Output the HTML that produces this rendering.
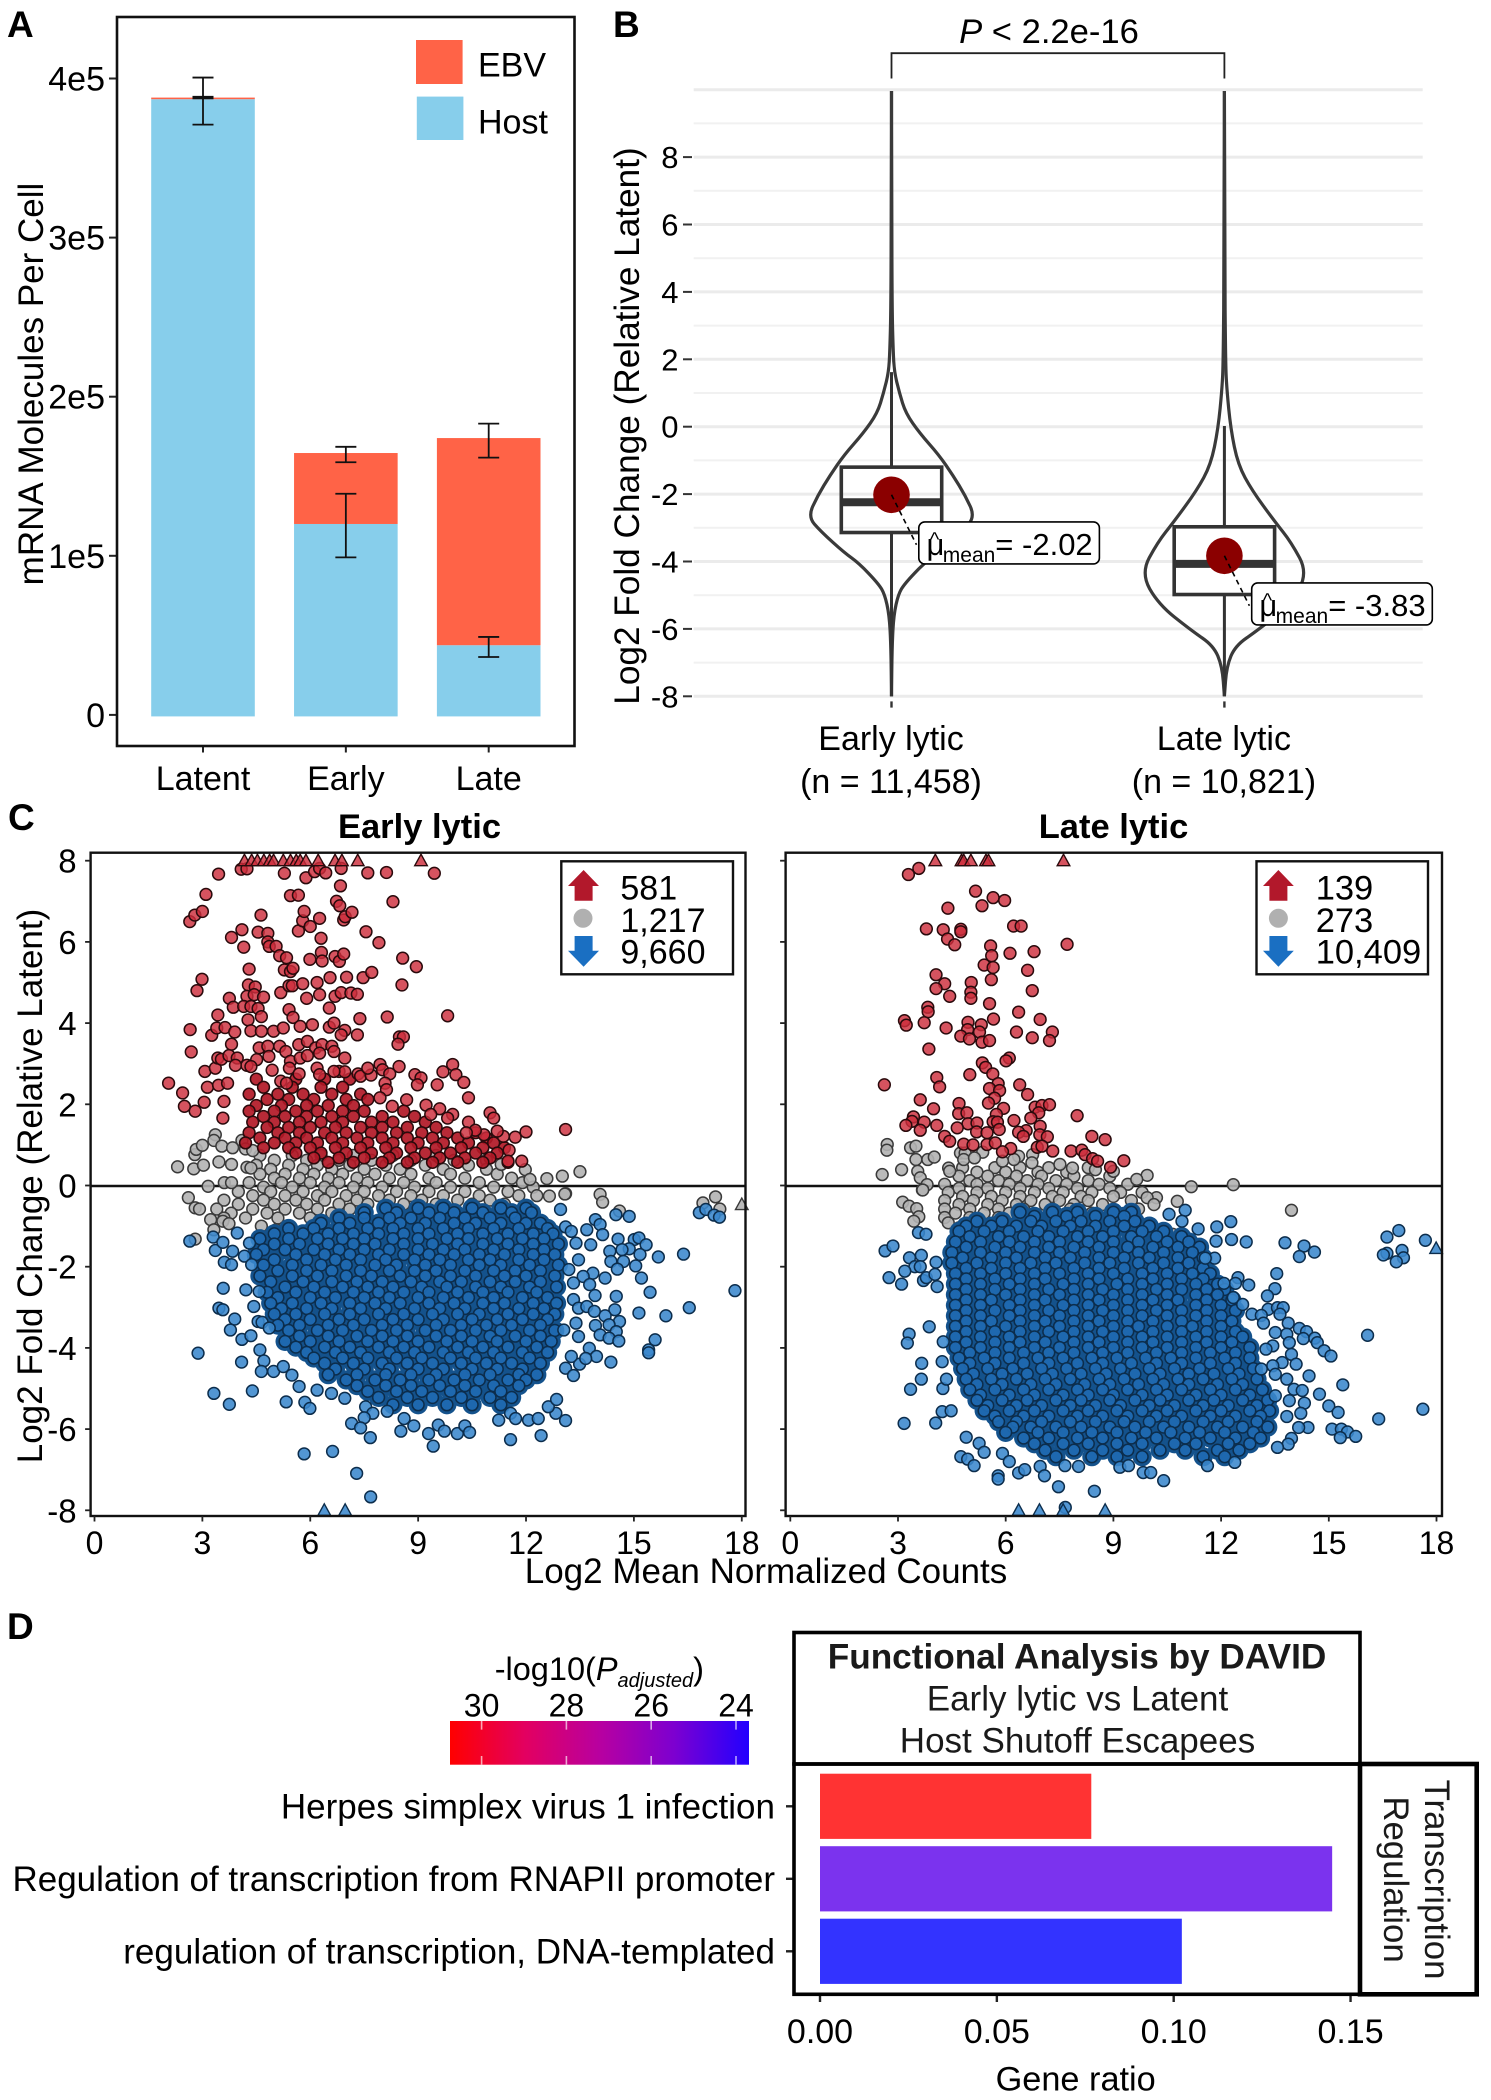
<!DOCTYPE html>
<html lang="en">
<head>
<meta charset="utf-8">
<title>Host shutoff figure</title>
<style>
html,body{margin:0;padding:0;background:#fff;}
svg{display:block;font-family:"Liberation Sans",Arial,sans-serif;}
text{fill:#000;}
</style>
</head>
<body>
<svg id="figure" width="1491" height="2100" viewBox="0 0 1491 2100">
<rect x="0" y="0" width="1491" height="2100" fill="#fff"/>

<text x="7" y="37" font-size="37" font-weight="bold">A</text>
<text x="613" y="37" font-size="37" font-weight="bold">B</text>
<text x="8" y="830" font-size="37" font-weight="bold">C</text>
<text x="7" y="1639" font-size="37" font-weight="bold">D</text>

<g id="panelA"></g>
<text transform="translate(43,384) rotate(-90)" text-anchor="middle" font-size="35">mRNA Molecules Per Cell</text>
<rect x="117" y="17" width="457.5" height="729" fill="none" stroke="#111" stroke-width="2.6"/>
<rect x="416" y="40" width="46.6" height="44" fill="#ff6347"/>
<rect x="416.8" y="96.6" width="46.6" height="43.4" fill="#87ceeb"/>
<text x="478" y="76.5" font-size="34">EBV</text>
<text x="478" y="133.3" font-size="34">Host</text>

<g id="panelB"></g>
<text transform="translate(639,426) rotate(-90)" text-anchor="middle" font-size="35.2">Log2 Fold Change (Relative Latent)</text>
<path d="M891.5 78.5V53.2H1224.4V78.5" fill="none" stroke="#222" stroke-width="1.8"/>
<text x="1049" y="43" text-anchor="middle" font-size="34.6"><tspan font-style="italic">P</tspan> &lt; 2.2e-16</text>

<g id="panelC"></g>
<text x="419.5" y="838" text-anchor="middle" font-size="34.5" font-weight="bold">Early lytic</text>
<text x="1113.5" y="838" text-anchor="middle" font-size="34.5" font-weight="bold">Late lytic</text>
<text transform="translate(42,1186) rotate(-90)" text-anchor="middle" font-size="35">Log2 Fold Change (Relative Latent)</text>
<text x="766" y="1583" text-anchor="middle" font-size="35">Log2 Mean Normalized Counts</text>

<defs>
<linearGradient id="pGradient" x1="0" x2="1" y1="0" y2="0"><stop offset="0" stop-color="#ff0000"/><stop offset="0.25" stop-color="#e30060"/><stop offset="0.5" stop-color="#b800a0"/><stop offset="0.75" stop-color="#7d00d0"/><stop offset="1" stop-color="#2200ff"/></linearGradient>
</defs>
<text x="494.7" y="1680" font-size="32.5">-log10(<tspan font-style="italic">P</tspan><tspan font-style="italic" font-size="20" dy="7">adjusted</tspan><tspan dy="-7">)</tspan></text>
<rect x="450" y="1721" width="299" height="43.7" fill="url(#pGradient)"/>
<g id="panelD"></g>
<rect x="794" y="1632.5" width="566" height="131.5" fill="none" stroke="#000" stroke-width="3.6"/>
<text x="1077" y="1668.3" text-anchor="middle" font-size="35.2" font-weight="bold" style="fill:#1a1a1a">Functional Analysis by DAVID</text>
<text x="1077.5" y="1710.7" text-anchor="middle" font-size="35" style="fill:#1a1a1a">Early lytic vs Latent</text>
<text x="1077.5" y="1752.7" text-anchor="middle" font-size="35" style="fill:#1a1a1a">Host Shutoff Escapees</text>
<rect x="794" y="1764" width="566" height="230.3" fill="none" stroke="#000" stroke-width="3.6"/>
<rect x="1360" y="1764" width="116.7" height="230.3" fill="none" stroke="#000" stroke-width="4.6"/>
<text transform="translate(1425,1879.5) rotate(90)" text-anchor="middle" font-size="34.8" style="fill:#1a1a1a">Transcription</text>
<text transform="translate(1384,1879.5) rotate(90)" text-anchor="middle" font-size="34.8" style="fill:#1a1a1a">Regulation</text>
<text x="1075.7" y="2090.7" text-anchor="middle" font-size="34.3">Gene ratio</text>

<g id="legendLayer">
<g>
<rect x="561.3" y="861.3" width="171.7" height="113" fill="#fff" stroke="#111" stroke-width="2.4"/>
<path d="M583.6 870L599 886H592.6V900.7H574.6V886H568Z" fill="#b2182b"/>
<circle cx="583" cy="918.3" r="9.5" fill="#b0b0b0"/>
<path d="M583.6 966.7L599 950.7H592.6V936H574.6V950.7H568Z" fill="#1a6fc2"/>
<text x="620.4" y="899.3" font-size="34">581</text>
<text x="620.4" y="932" font-size="34">1,217</text>
<text x="620.4" y="963.3" font-size="34">9,660</text>
</g>
<g>
<rect x="1256.5" y="861.3" width="171.5" height="113" fill="#fff" stroke="#111" stroke-width="2.4"/>
<path d="M1278.4 870L1293.8 886H1287.4V900.7H1269.4V886H1263Z" fill="#b2182b"/>
<circle cx="1278.4" cy="918.3" r="9.5" fill="#b0b0b0"/>
<path d="M1278.4 966.7L1293.8 950.7H1287.4V936H1269.4V950.7H1263Z" fill="#1a6fc2"/>
<text x="1315.7" y="899.3" font-size="34.5">139</text>
<text x="1315.7" y="932" font-size="34.5">273</text>
<text x="1315.7" y="963.3" font-size="34.5">10,409</text>
</g>
</g>
</svg>
<script>
/* ---------- Panel A data ---------- */
const barCategories=["Latent","Early","Late"];
const hostValues=[387000,120000,43800];
const ebvValues=[1000,44600,130200];
const hostErrLow=[371000,99000,36400];
const hostErrHigh=[400600,139000,49000];
const totalErrLow=[387500,158800,161700];
const totalErrHigh=[388500,168500,183100];
const barTicks=[0,100000,200000,300000,400000];
const barTickLabels=["0","1e5","2e5","3e5","4e5"];

/* ---------- Panel B data ---------- */
const violinCategories=["Early lytic","Late lytic"];
const violinCounts=["(n = 11,458)","(n = 10,821)"];
const violinMajorTicks=[-8,-6,-4,-2,0,2,4,6,8];
const violinExtraMajor=[10];
const violinMinorTicks=[-7,-5,-3,-1,1,3,5,7,9];
const earlyViolinValues=[9.96,6.5,3.46,2.24,1.62,1,0.4,-0.2,-0.83,-1.44,-2.05,-2.67,-3.1,-3.74,-4.05,-4.66,-4.97,-5.58,-6.5,-8];
const earlyViolinDensity=[0,0.003,0.007,0.02,0.034,0.095,0.17,0.34,0.565,0.735,0.885,1,0.85,0.565,0.39,0.156,0.082,0.027,0.007,0];
const lateViolinValues=[9.96,5,1.93,1.16,-0.06,-1.13,-1.9,-2.82,-3.43,-4.35,-5.27,-6.04,-6.5,-7.11,-8];
const lateViolinDensity=[0,0.003,0.014,0.027,0.075,0.163,0.333,0.605,0.8,1,0.79,0.4,0.13,0.027,0];
const boxQ1=[-3.14,-4.98];
const boxMedian=[-2.24,-4.07];
const boxQ3=[-1.2,-2.97];
const whiskerTop=[1.62,0.02];
const whiskerBottom=[-8,-8];
const meanValues=[-2.02,-3.83];
const meanLabels=["= -2.02","= -3.83"];

/* ---------- Panel C data (log2 mean counts, log2 fold change) ---------- */
const maXTicks=[0,3,6,9,12,15,18];
const maYTicks=[-8,-6,-4,-2,0,2,4,6,8];

/* rows: first number is log2 fold change, the rest are log2 mean counts */
const earlyBlueCore=[
[-0.56,8.1,9.0,9.7,10.5,11.3,12.0],
[-0.67,7.5,8.4,9.3,10.0,10.8,11.6,12.15],
[-0.8,6.8,7.5,8.2,8.8,9.6,10.3,11.0,11.7],
[-0.93,6.3,7.1,7.9,8.5,9.2,10.0,10.6,11.3,12.0,12.4],
[-1.06,5.4,6.1,6.8,7.6,8.3,9.0,9.7,10.4,11.1,11.8,12.6],
[-1.19,5.0,5.8,6.5,7.2,7.9,8.6,9.3,10.1,10.8,11.5,12.2,12.75],
[-1.31,4.6,5.4,6.2,6.9,7.5,8.3,9.0,9.8,10.4,11.2,11.9,12.5],
[-1.44,5.0,5.7,6.5,7.2,7.8,8.6,9.4,10.1,10.8,11.5,12.2,12.9],
[-1.58,4.7,5.3,6.1,6.8,7.5,8.2,9.0,9.7,10.3,11.1,11.8,12.5],
[-1.7,4.5,5.6,6.4,7.1,7.9,8.6,9.3,10.0,10.7,11.4,12.2,12.8],
[-1.83,5.0,5.9,6.7,7.4,8.1,8.9,9.6,10.4,11.0,11.8,12.5],
[-1.96,4.7,5.5,6.3,7.0,7.8,8.4,9.2,9.9,10.7,11.3,12.1,12.9],
[-2.1,5.1,5.9,6.6,7.4,8.2,8.9,9.5,10.3,11.1,11.7,12.4],
[-2.23,4.6,5.5,6.2,7.0,7.7,8.5,9.2,9.9,10.6,11.4,12.0,12.8],
[-2.37,4.9,5.8,6.6,7.3,8.0,8.8,9.6,10.2,11.0,11.7,12.4],
[-2.5,5.3,6.1,6.9,7.6,8.3,9.1,9.8,10.6,11.3,12.1,12.85],
[-2.63,4.8,5.6,6.4,7.2,7.9,8.6,9.3,10.1,10.8,11.5,12.3],
[-2.76,5.1,6.0,6.7,7.5,8.2,9.0,9.7,10.4,11.1,11.9,12.6],
[-2.9,4.9,5.5,6.3,7.1,7.8,8.5,9.3,10.0,10.8,11.4,12.2,12.85],
[-3.03,5.2,5.9,6.6,7.4,8.1,8.9,9.6,10.3,11.1,11.8,12.5],
[-3.17,5.0,5.6,6.4,7.1,7.9,8.6,9.4,10.1,10.7,11.5,12.2,12.8],
[-3.3,5.3,6.0,6.8,7.5,8.3,9.0,9.7,10.5,11.2,11.9,12.6],
[-3.44,5.1,5.7,6.5,7.2,8.0,8.7,9.5,10.2,10.9,11.6,12.4],
[-3.57,5.4,6.2,6.9,7.7,8.4,9.2,9.9,10.6,11.3,12.1,12.8],
[-3.71,5.7,6.5,7.3,8.0,8.7,9.5,10.2,11.0,11.7,12.4],
[-3.84,5.3,6.0,6.8,7.6,8.3,9.0,9.8,10.5,11.2,12.0,12.7],
[-3.98,5.6,6.4,7.1,7.9,8.6,9.3,10.1,10.8,11.5,12.3],
[-4.11,5.9,6.7,7.4,8.2,8.9,9.7,10.4,11.1,11.9,12.6],
[-4.25,6.1,6.9,7.6,8.4,9.1,9.9,10.6,11.3,12.1],
[-4.38,6.4,7.2,8.0,8.7,9.4,10.2,10.9,11.6,12.4],
[-4.52,6.7,7.5,8.2,9.0,9.7,10.5,11.2,11.9],
[-4.66,6.5,7.3,8.1,8.8,9.5,10.3,11.0,11.8,12.3],
[-4.79,7.0,7.8,8.5,9.3,10.0,10.7,11.5,12.0],
[-4.93,7.3,8.1,8.8,9.6,10.3,11.1,11.8],
[-5.07,7.6,8.4,9.1,9.9,10.6,11.3],
[-5.22,7.9,8.7,9.4,10.2,11.0,11.6],
[-5.4,8.3,9.0,9.8,10.5,11.3]
];
const earlyBlueSparse=[
[2.65,-1.37],[3.3,-1.27],[3.36,-1.6],[3.57,-1.4],[3.61,-1.89],[3.84,-1.62],[3.81,-1.95],[3.97,-1.17],[4.17,-1.74],[4.31,-1.42],[4.37,-1.95],[3.58,-2.53],[4.21,-2.57],[4.58,-2.61],[3.46,-3.02],[3.57,-3.06],[4.43,-2.98],[3.9,-3.29],[3.78,-3.56],[4.1,-3.79],[4.35,-3.7],[4.55,-3.35],[4.66,-3.37],[4.86,-3.51],[2.88,-4.13],[4.09,-4.35],[4.6,-4.05],[4.71,-4.32],[4.64,-4.58],[4.98,-4.58],[5.25,-4.46],[5.49,-4.67],[3.32,-5.12],[3.75,-5.39],[4.39,-5.06],[5.33,-5.33],[5.85,-5.34],[5.99,-5.49],[5.69,-4.95],[6.19,-5.04],[6.59,-5.12],[6.96,-5.24],[7.54,-5.45],[7.74,-5.61],[7.5,-5.72],[7.15,-5.86],[7.4,-5.97],[7.67,-6.21],[8.14,-5.56],[8.61,-5.74],[8.52,-6.05],[8.88,-5.92],[9.29,-6.11],[9.56,-5.9],[9.73,-6.05],[10.09,-6.11],[10.3,-5.92],[10.43,-6.08],[9.42,-6.42],[11.24,-5.78],[11.57,-5.61],[11.71,-5.74],[12.07,-5.78],[12.34,-5.74],[12.83,-5.61],[13.1,-5.79],[12.62,-5.45],[12.85,-5.27],[12.42,-6.16],[11.57,-6.26],[5.83,-6.61],[6.62,-6.55],[7.29,-7.09],[7.68,-7.67],
[12.96,-0.59],[13.1,-1.02],[13.26,-1.13],[13.93,-0.84],[14.06,-0.96],[14.5,-0.72],[14.87,-0.76],[13.69,-1.09],[14.13,-1.21],[14.56,-1.32],[15.01,-1.33],[15.14,-1.29],[15.34,-1.46],[14.87,-1.56],[14.67,-1.58],[15.17,-1.7],[15.68,-1.76],[16.38,-1.69],[13.39,-1.42],[13.8,-1.46],[14.33,-1.62],[14.36,-1.87],[14.71,-1.87],[15.05,-1.98],[14.54,-2.06],[15.21,-2.28],[14.2,-2.28],[13.86,-2.16],[13.46,-1.83],[13.59,-2.24],[13.19,-2.07],[13.32,-2.4],[13.77,-2.44],[15.45,-2.63],[13.92,-2.71],[14.51,-2.73],[17.81,-2.59],[13.32,-2.81],[13.46,-3.02],[13.69,-2.98],[13.9,-3.1],[14.47,-3.06],[14.2,-3.21],[14.6,-3.35],[15.14,-3.14],[15.89,-3.21],[16.54,-3.01],[13.93,-3.45],[14.31,-3.43],[14.51,-3.6],[14.06,-3.68],[14.31,-3.76],[14.58,-3.83],[13.39,-3.39],[13.05,-3.56],[13.46,-3.72],[13.76,-4.01],[13.96,-4.21],[14.36,-4.35],[13.49,-4.4],[13.26,-4.21],[13.66,-4.26],[13.1,-4.5],[13.32,-4.68],[15.59,-3.8],[15.41,-4.05],[15.41,-4.12],[16.82,-0.67],[17,-0.59],[17.23,-0.73],[17.38,-0.78]
];
const earlyBlueClipped=[[6.39,-8],[6.97,-8]];

const earlyGrayCore=[
[0.74,4.6,5.5,6.3,7.2,8.3,9.5],
[0.62,5.0,5.9,6.8,7.7,8.8,10.0,10.9],
[0.5,4.5,5.4,6.2,7.1,8.1,9.2,10.4],
[0.4,4.9,5.8,6.6,7.5,8.5,9.7,10.9],
[0.28,4.6,5.3,6.1,6.9,7.8,8.8,9.9,11.2],
[0.18,5.0,5.7,6.5,7.3,8.2,9.3,10.3,11.6],
[0.07,4.3,5.2,6.0,6.8,7.6,8.6,9.5,10.7,11.9],
[-0.04,4.7,5.5,6.4,7.2,8.0,8.9,9.9,11.1,12.2],
[-0.15,4.0,4.9,5.8,6.6,7.5,8.4,9.3,10.3,11.5],
[-0.25,4.4,5.3,6.2,7.0,7.9,8.8,9.7,10.7,11.8,12.3],
[-0.36,3.6,4.7,5.6,6.4,7.3,8.2,9.1,10.1,11.0],
[-0.46,4.0,5.0,5.9,6.8,7.6,8.6,9.5,10.5,11.4],
[-0.58,3.4,4.4,5.3,6.2,7.1],
[-0.68,3.8,4.8,5.7,6.6],
[-0.8,3.6,4.2,5.1,6.0]
];
const earlyGraySparse=[
[2.31,0.46],[2.76,0.41],[3.03,0.5],[2.79,0.76],[2.83,0.89],[3,0.99],[3.36,1.25],[3.32,1.11],[3.54,0.97],[3.84,0.93],[4.1,1.11],[4.2,0.9],[4.4,0.86],[3.46,0.58],[3.81,0.52],[4.24,0.45],[4.35,0.43],[3.61,0.07],[3.81,0.07],[3.16,-0.02],[12.58,0.17],[13.01,0.23],[13.5,0.34],[11.98,0.39],[11.31,0.52],[12.11,0.15],[13.1,-0.2],[14.06,-0.22],[2.61,-0.3],[2.8,-0.55],[2.92,-0.58],[2.8,-1.32],[14.13,-0.41],[14.6,-0.63],[13.08,-0.21],[12.65,-0.26],[16.92,-0.43],[17.27,-0.28],[17.39,-0.58],[3.23,-0.84],[3.32,-1.09],[3.57,-0.88],[3.74,-0.94],[4.64,-1],[5.05,-1.09]
];
const earlyGrayClipped=[[18,-0.47]];

const earlyRedCore=[
[2.62,4.5,5.6,6.4,7.1],
[2.42,4.7,5.5,6.3,6.9],
[2.25,4.3,5.1,5.8,6.6,7.4],
[2.12,4.8,5.4,6.1,7.0,7.6],
[1.97,4.5,5.2,5.9,6.5,7.2],
[1.83,4.3,5.0,5.6,6.2,6.9,7.5,8.6],
[1.7,4.7,5.3,5.9,6.6,7.2,8.0,8.9],
[1.56,4.4,5.0,5.7,6.3,6.9,7.7,8.3,9.2],
[1.43,4.8,5.4,6.0,6.7,7.4,8.0,8.7,9.5],
[1.3,4.3,5.1,5.7,6.4,7.0,7.7,8.4,9.1,9.8,10.6],
[1.17,4.6,5.3,5.9,6.6,7.3,8.0,8.7,9.4,10.1,10.9],
[1.05,4.2,5.0,5.6,6.2,6.9,7.6,8.3,9.0,9.7,10.4,11.1],
[0.93,4.7,5.4,6.0,6.7,7.4,8.1,8.8,9.5,10.2,10.8,11.4],
[0.8,5.6,6.3,7.0,7.7,8.4,9.2,9.9,10.6,11.2],
[0.68,6.1,6.8,7.5,8.2,8.9,9.6,10.3,11.0],
[0.57,6.5,7.2,8.0,8.7,9.4,10.1,10.8,11.5]
];
const earlyRedSparse=[
[2.06,2.52],[2.45,2.28],[2.5,1.95],[2.8,1.83],[3.05,2.05],[3.14,2.42],[3.45,2.47],[3.7,2.52],[3.6,2.07],[3.57,1.66],[2.66,3.84],[2.69,3.29],[3.07,2.81],[3.36,2.89],[3.43,3.14],[3.53,3.11],[3.74,3.2],[3.97,3.14],[3.92,2.96],[3.26,3.7],[3.4,3.88],[3.63,3.89],[3.9,3.78],[3.81,3.48],[3.43,4.2],[2.85,4.8],[2.99,5.08],[2.65,6.5],[2.79,6.66],[3,6.75],[3.1,7.17],[3.45,7.67],[4.08,7.79],[4.24,7.8],[3.81,6.11],[4.1,6.3],[4.15,5.87],[4.55,6.24],[4.82,6.21],[4.63,6.66],[4.82,6],[4.86,5.89],[5.05,5.89],[5.15,5.66],[5.34,5.61],[5.28,5.31],[5.45,5.27],[5.52,5.35],[4.3,5.33],[4.28,4.94],[4.47,4.89],[4.24,4.66],[4.44,4.7],[4.7,4.64],[5.18,4.75],[5.41,4.92],[5.5,4.92],[5.79,4.97],[6.19,5],[6.55,5.12],[7.01,5.13],[7.47,5.12],[7.71,5.25],[3.75,4.61],[3.86,4.39],[4.15,4.41],[4.35,4.41],[4.55,4.36],[4.64,4.16],[4.27,4.08],[4.35,3.81],[4.64,3.8],[4.98,3.8],[5.25,3.88],[5.41,4.33],[5.52,4.14],[5.72,3.92],[5.9,4.61],[6.26,4.7],[6.69,4.66],[6.86,4.75],[7.13,4.74],[7.31,4.71],[6.53,4.37],[7.38,4.11],[8.14,4.15],[9.82,4.18],[6.06,3.96],[6.53,3.9],[6.66,4],[6.96,3.82],[6.86,3.71],[7.31,3.71],[8.48,3.66],[8.59,3.66],[8.44,3.48],[5.99,5.57],[6.31,5.74],[6.33,5.53],[6.69,5.64],[6.81,5.52],[6.93,5.7],[8.57,5.6],[8.95,5.39],[8.55,4.94],[6.3,6.09],[5.67,6.27],[5.79,6.52],[5.83,6.75],[6,6.38],[6.26,6.58],[6.73,7],[6.82,6.89],[6.93,6.54],[6.97,6.62],[7.16,6.73],[7.55,6.25],[7.91,5.98],[8.3,6.99],[6.84,7.38],[5.45,7.14],[5.67,7.15],[5.28,7.69],[5.88,7.58],[6.12,7.73],[6.26,7.81],[6.43,7.7],[6.86,7.81],[7.6,7.7],[8.12,7.71],[9.45,7.69],
[4.58,3.39],[4.82,3.43],[5.15,3.43],[5.32,3.3],[4.85,3.18],[4.51,3.1],[4.24,2.96],[4.35,2.93],[4.94,2.84],[5.45,3.06],[5.68,3.47],[5.92,3.55],[6.15,3.39],[6.33,3.47],[6.6,3.43],[6.66,3.3],[6.96,3.14],[6.26,3.26],[5.72,3.14],[5.92,3.2],[6.19,2.89],[5.42,2.89],[5.69,2.75],[5.18,2.57],[5.34,2.52],[6.8,2.81],[6.96,2.8],[6.66,2.81],[6.26,2.73],[7.33,2.75],[7.4,2.69],[7.69,2.72],[7.94,2.98],[8.01,2.85],[8.21,2.75],[7.6,2.89],[8.47,2.93],[8.91,2.73],[9.08,2.65],[8.98,2.48],[9.69,2.8],[9.96,2.98],[10.05,2.73],[10.27,2.54],[9.53,2.48],[10.4,2.16],[8.08,2.52],[8.12,2.36],[7.94,2.16],[8.28,1.95],[8.68,2.11],[9.22,1.98],[9.6,1.89],[9.35,1.75],[9.96,1.75],[9.82,1.66],[11,1.79],[11.1,1.66],[10.4,1.56],[13.1,1.38],[12,1.32],[11.7,1.19],[11.37,1.21],[11.2,1.34],[10.83,1.25],[10.59,1.36],[10.34,1.3],[11.53,0.87],[11.88,0.6],[11.5,0.6]
];
const earlyRedClipped=[[4.17,8],[4.37,8],[4.53,8],[4.71,8],[4.87,8],[4.98,8],[5.25,8],[5.45,8],[5.61,8],[5.72,8],[5.88,8],[6.22,8],[6.69,8],[6.88,8],[7.32,8],[9.08,8]];

const lateBlueCore=[
[-0.66,6.4,7.3,8.0,9.0,9.5],
[-0.76,6.8,7.7,8.5,9.3],
[-0.88,5.2,5.9,6.7,7.4,8.1,8.9,9.6],
[-1.0,4.9,5.6,6.3,7.0,7.8,8.5,9.3,10.0],
[-1.13,4.7,5.4,6.1,6.9,7.6,8.3,9.0,9.8,10.4],
[-1.26,5.0,5.8,6.5,7.2,8.0,8.7,9.5,10.2,10.9],
[-1.39,4.6,5.3,6.1,6.8,7.5,8.3,9.0,9.7,10.5,11.1],
[-1.52,4.9,5.7,6.4,7.2,7.9,8.6,9.4,10.1,10.8,11.4],
[-1.65,4.5,5.3,6.0,6.8,7.5,8.2,9.0,9.7,10.4,11.2],
[-1.78,4.8,5.6,6.3,7.1,7.8,8.6,9.3,10.0,10.8,11.5],
[-1.91,4.5,5.2,6.0,6.7,7.4,8.2,8.9,9.7,10.4,11.1],
[-2.04,4.9,5.6,6.4,7.1,7.9,8.6,9.3,10.1,10.8,11.5],
[-2.17,4.6,5.3,6.0,6.8,7.5,8.3,9.0,9.8,10.5,11.2,11.7],
[-2.3,4.9,5.7,6.4,7.1,7.9,8.6,9.4,10.1,10.9,11.5],
[-2.43,4.6,5.3,6.1,6.8,7.6,8.3,9.1,9.8,10.5,11.3,11.9],
[-2.56,4.9,5.7,6.4,7.2,7.9,8.7,9.4,10.2,10.9,11.6,12.1],
[-2.69,4.6,5.3,6.0,6.8,7.5,8.3,9.0,9.8,10.5,11.3,11.9],
[-2.82,4.9,5.6,6.4,7.1,7.9,8.6,9.4,10.1,10.8,11.6,12.3],
[-2.95,4.6,5.3,6.1,6.8,7.6,8.3,9.0,9.8,10.5,11.3,12.0],
[-3.08,4.9,5.7,6.4,7.2,7.9,8.7,9.4,10.2,10.9,11.6,12.4],
[-3.21,4.6,5.3,6.1,6.8,7.5,8.3,9.0,9.8,10.5,11.3,12.0],
[-3.34,4.9,5.6,6.4,7.1,7.9,8.6,9.4,10.1,10.9,11.6,12.3],
[-3.47,4.6,5.3,6.0,6.8,7.5,8.3,9.0,9.7,10.5,11.2,12.0],
[-3.6,4.9,5.7,6.4,7.2,7.9,8.7,9.4,10.1,10.9,11.6,12.4],
[-3.73,4.6,5.3,6.1,6.8,7.6,8.3,9.0,9.8,10.5,11.3,12.0,12.6],
[-3.86,4.9,5.7,6.4,7.1,7.9,8.6,9.4,10.1,10.9,11.6,12.3],
[-3.99,4.6,5.3,6.1,6.8,7.5,8.3,9.0,9.8,10.5,11.3,12.0,12.8],
[-4.12,5.0,5.7,6.5,7.2,7.9,8.7,9.4,10.2,10.9,11.7,12.4],
[-4.25,4.7,5.4,6.1,6.9,7.6,8.4,9.1,9.9,10.6,11.3,12.1,12.8],
[-4.38,5.0,5.7,6.5,7.2,8.0,8.7,9.5,10.2,10.9,11.7,12.4],
[-4.51,4.8,5.5,6.2,7.0,7.7,8.5,9.2,10.0,10.7,11.4,12.2,12.9],
[-4.64,5.1,5.9,6.6,7.3,8.1,8.8,9.6,10.3,11.1,11.8,12.5],
[-4.77,4.9,5.6,6.3,7.1,7.8,8.6,9.3,10.1,10.8,11.5,12.3,13.0],
[-4.9,5.2,5.9,6.7,7.4,8.2,8.9,9.7,10.4,11.1,11.9,12.6],
[-5.03,5.0,5.7,6.5,7.2,8.0,8.7,9.4,10.2,10.9,11.7,12.4,13.15],
[-5.16,5.3,6.1,6.8,7.6,8.3,9.0,9.8,10.5,11.3,12.0,12.8],
[-5.29,5.2,5.9,6.6,7.4,8.1,8.9,9.6,10.3,11.1,11.8,12.6,13.3],
[-5.42,5.5,6.3,7.0,7.8,8.5,9.2,10.0,10.7,11.5,12.2,13.0],
[-5.55,5.4,6.1,6.8,7.6,8.3,9.1,9.8,10.5,11.3,12.0,12.8,13.35],
[-5.68,5.7,6.5,7.2,8.0,8.7,9.4,10.2,10.9,11.7,12.4,13.1],
[-5.82,5.8,6.3,7.0,7.8,8.5,9.3,10.0,10.7,11.5,12.2,13.0],
[-5.95,6.2,6.7,7.4,8.1,8.9,9.6,10.4,11.1,11.9,12.6,13.3],
[-6.08,6.0,6.9,7.6,8.4,9.1,9.9,10.6,11.4,12.1,12.9],
[-6.22,6.5,7.2,8.0,8.7,9.5,10.2,11.0,11.7,12.4,13.1],
[-6.36,6.8,7.6,8.3,9.1,9.8,10.7,11.3,12.2,12.8],
[-6.52,7.1,7.9,8.7,9.4,10.3,11.0,11.9,12.5],
[-6.68,7.4,8.4,9.1,9.8,11.5,12.1]
];
const lateBlueSparse=[
[2.64,-1.61],[2.86,-1.49],[3.32,-1.78],[3.65,-1.72],[3.47,-2],[3.62,-2],[3.19,-2.11],[2.75,-2.27],[3.1,-2.43],[3.71,-2.34],[3.79,-2.27],[4.03,-2.19],[4.09,-2.49],[4.06,-1.89],[3.57,-1.16],[3.78,-1.2],[3.87,-3.48],[3.31,-3.66],[3.26,-3.88],[4.26,-3.85],[3.66,-4.38],[4.23,-4.34],[3.65,-4.77],[3.35,-5.02],[4.25,-5],[4.35,-4.77],[4.23,-5.57],[4.48,-5.55],[3.17,-5.86],[4.05,-5.85],[4.9,-6.2],[5.26,-6.35],[5.4,-6.57],[4.75,-6.68],[4.94,-6.74],[5.12,-6.9],[5.91,-6.6],[6.1,-6.8],[5.79,-7.15],[5.79,-7.23],[6.36,-7.08],[6.53,-7],[6.96,-6.92],[7.08,-7.15],[7.65,-6.9],[8.03,-6.92],[7.47,-7.42],[8.47,-7.53],[9.18,-6.94],[9.42,-6.9],[9.83,-7.07],[10.04,-7.07],[10.4,-7.27],[7.66,-7.93],[11.62,-6.9],[12.38,-6.82],
[11,-0.61],[10.55,-0.71],[10.91,-0.88],[11.36,-1.07],[11.88,-1.02],[12.27,-0.89],[11.86,-1.37],[12.29,-1.33],[12.7,-1.39],[13.78,-1.41],[14.31,-1.49],[14.6,-1.64],[14.18,-1.75],[11.82,-1.79],[11.56,-1.79],[13.55,-2.17],[13.5,-2.54],[13.29,-2.72],[12.77,-2.45],[12.47,-2.27],[12.4,-2.41],[12.08,-2.41],[12.34,-2.76],[12.6,-2.93],[16.95,-1.11],[16.62,-1.27],[17.69,-1.35],[17.04,-1.6],[16.62,-1.67],[16.52,-1.71],[17.08,-1.78],[16.88,-1.88],
[13.31,-3.05],[13.57,-3.01],[13.73,-3.01],[13.64,-3.17],[12.86,-3.17],[13.12,-3.2],[13.18,-3.39],[13.87,-3.39],[14.18,-3.52],[14.38,-3.6],[13.51,-3.62],[13.83,-3.66],[14.29,-3.77],[14.61,-3.76],[14.68,-3.87],[14.87,-4.07],[15.06,-4.2],[13.9,-3.87],[13.44,-3.95],[13.25,-4.03],[13.96,-4.16],[14.09,-4.4],[13.7,-4.36],[13.44,-4.44],[13.12,-4.52],[13.51,-4.65],[13.83,-4.77],[14.45,-4.69],[14.03,-5.02],[14.26,-5.05],[14.74,-5.14],[13.51,-5.18],[13.9,-5.3],[14.32,-5.36],[15,-5.43],[15.26,-5.59],[14.22,-5.61],[13.83,-5.69],[14.42,-5.96],[14.16,-5.96],[15.09,-6],[15.35,-6],[15.52,-6.07],[15.75,-6.18],[15.32,-6.21],[13.96,-6.23],[13.87,-6.37],[13.57,-6.45],[15.39,-4.91],[16.08,-3.69],[17.62,-5.51],[16.39,-5.75]
];
const lateBlueClipped=[[6.36,-8],[6.94,-8],[7.6,-8],[8.77,-8],[17.99,-1.55]];

const lateGrayCore=[
[0.44,4.8,5.7,6.4,7.2,8.3],
[0.33,5.2,6.0,6.9,7.7],
[0.23,4.7,5.5,6.3,7.0,7.9,8.9],
[0.12,5.0,5.8,6.6,7.4,8.3],
[0.03,4.3,5.2,6.1,6.9,7.7,8.6,9.4],
[-0.07,4.7,5.5,6.4,7.2,8.0,8.9],
[-0.17,4.4,5.2,6.0,6.8,7.6,8.4,9.2,9.8],
[-0.27,4.8,5.6,6.4,7.3,8.1,9.0],
[-0.37,4.3,5.1,5.9,6.7,7.5,8.3,9.5],
[-0.47,4.7,5.5,6.3,7.1,7.9,8.7],
[-0.58,4.3,5.0,5.8,6.5,7.8,9.7],
[-0.68,4.6,5.4,6.1,8.4],
[-0.79,4.3,5.0,5.8],
[-0.92,4.4,5.2],
[-1.04,4.7]
];
const lateGraySparse=[
[2.7,1.01],[2.69,0.87],[3.35,0.93],[3.5,0.97],[2.56,0.27],[3.1,0.39],[3.5,0.64],[3.83,0.64],[4.01,0.7],[3.55,0.35],[3.62,0.19],[3.81,0.02],[3.68,-0.11],[4.74,0.8],[4.87,0.8],[4.83,0.64],[5.36,0.82],[5.13,0.68],[11.17,-0.03],[12.34,0.02],[9.94,0.25],[9.65,0.15],[9,0.35],[8.5,0.39],[7.86,0.43],[7.51,0.52],[6.75,0.76],[6.73,0.56],[6.36,0.72],[6.23,0.64],[5.91,0.6],[4.41,0.43],[4.44,0.35],[3.13,-0.41],[3.31,-0.51],[3.52,-0.57],[3.58,-0.77],[3.44,-0.88],[3.69,-0.11],[10.78,-0.39],[13.96,-0.61],[10.2,-0.3],[9.94,-0.3],[10.13,-0.47],[10.65,-1.2]
];

const lateRedSparse=[
[2.62,2.48],[3.29,7.66],[3.58,7.81],[5.16,7.25],[5.65,7.09],[5.97,7.02],[5.34,6.89],[4.39,6.83],[3.79,6.32],[4.26,6.3],[4.75,6.31],[4.75,6.25],[6.22,6.39],[6.43,6.39],[4.38,6.07],[4.58,5.93],[5.58,5.9],[5.61,5.66],[6.12,5.72],[6.79,5.76],[7.71,5.94],[5.4,5.43],[5.65,5.37],[6.61,5.3],[4.06,5.19],[4.3,4.97],[4.06,4.85],[4.44,4.66],[5.04,5],[5.03,4.76],[5.03,4.61],[5.6,5.07],[6.74,4.8],[5.55,4.48],[3.83,4.39],[3.84,4.28],[6.36,4.27],[3.18,4.06],[3.23,3.95],[3.73,4.01],[4.34,3.88],[4.95,4.02],[4.94,3.84],[5.32,3.96],[5.66,4.1],[6.96,4.09],[5.27,3.78],[6.3,3.78],[7.3,3.78],[4.75,3.68],[4.99,3.61],[5.34,3.53],[5.55,3.57],[6.74,3.64],[7.22,3.57],[3.86,3.36],[5.35,3.02],[6.1,3.14],[6.01,3.07],[5.44,2.91],[5.64,2.75],[5,2.73],[4.08,2.66],[4.16,2.43],[5.79,2.51],[5.55,2.39],[5.83,2.34],[6.39,2.48],[6.61,2.24],[5.69,2.15],[5.52,2.03],[3.62,2.11],[4.7,2.02],[3.99,1.89],[5.94,1.9],[6.82,1.93],[7.01,1.97],[7.22,1.99],[6.92,1.79],[6.7,1.66],[7.99,1.72],[3.43,1.69],[3.39,1.58],[3.73,1.56],[3.22,1.48],[3.62,1.36],[4.08,1.48],[4.69,1.77],[4.92,1.79],[5.74,1.75],[6.23,1.6],[4.95,1.52],[5.2,1.54],[5.65,1.57],[5.77,1.56],[4.65,1.42],[5.82,1.38],[6.96,1.46],[6.57,1.35],[6.36,1.31],[5.19,1.32],[5.48,1.3],[6.49,1.21],[6.95,1.25],[4.3,1.21],[4.44,1.09],[4.83,1.02],[5.09,1],[5.48,1.01],[5.71,1.05],[7.16,1.2],[8.4,1.21],[8.77,1.13],[6.88,0.94],[7.01,0.97],[6.14,0.91],[5.91,0.83],[7.31,0.85],[7.82,0.85],[8.12,0.87],[8.21,0.76],[8.42,0.66],[8.56,0.6],[9.29,0.61],[8.92,0.45]
];
const lateRedClipped=[[4.04,8],[4.77,8],[4.83,8],[5.03,8],[5.45,8],[5.52,8],[7.61,8]];

/* ---------- Panel D data ---------- */
const termLabels=["Herpes simplex virus 1 infection","Regulation of transcription from RNAPII promoter","regulation of transcription, DNA-templated"];
const geneRatios=[0.0767,0.1448,0.1023];
const termColors=["#ff3333","#7b33ee","#3333ff"];
const ratioTicks=[0,0.05,0.1,0.15];
const ratioTickLabels=["0.00","0.05","0.10","0.15"];
const colorbarTicks=[30,28,26,24];

/* ---------- helpers ---------- */
const NS=document.getElementById('figure').namespaceURI;
function mk(tag,parent,attrs,txt){
  const el=document.createElementNS(NS,tag);
  for(const k in attrs){el.setAttribute(k,attrs[k]);}
  if(txt!==undefined){el.textContent=txt;}
  parent.appendChild(el);
  return el;
}

/* ---------- Panel A ---------- */
const yA=v=>714.9-v*159.1/100000;
const xA=i=>203+142.85*i;
const gA=document.getElementById('panelA');
barCategories.forEach((c,i)=>{
  const host=mk('rect',gA,{x:xA(i)-51.8,y:yA(hostValues[i]),width:103.6,height:yA(0)-yA(hostValues[i])+1.5,fill:'#87ceeb'});
  
  
  const ebv=mk('rect',gA,{x:xA(i)-51.8,y:yA(hostValues[i]+ebvValues[i]),width:103.6,height:yA(hostValues[i])-yA(hostValues[i]+ebvValues[i]),fill:'#ff6347'});
  
  
});
function errorBar(i,lo,hi){
  const p=yA(lo),q=yA(hi),x=xA(i);
  const e=mk('path',gA,{d:'M'+(x-10.5)+' '+q+'H'+(x+10.5)+'M'+x+' '+q+'V'+p+'M'+(x-10.5)+' '+p+'H'+(x+10.5),fill:'none',stroke:'#111',"stroke-width":1.8});
  
  
}
barCategories.forEach((c,i)=>{
  errorBar(i,hostErrLow[i],hostErrHigh[i]);
  errorBar(i,totalErrLow[i],totalErrHigh[i]);
  const t=mk('line',gA,{x1:xA(i),x2:xA(i),y1:746,y2:752.5,stroke:'#222',"stroke-width":2});
  
  
  const l=mk('text',gA,{x:xA(i),y:790,"text-anchor":'middle',"font-size":34},c);
  
  
});
barTicks.forEach((v,i)=>{
  const t=mk('line',gA,{x1:109,x2:117,y1:yA(v),y2:yA(v),stroke:'#222',"stroke-width":2});
  
  
  const l=mk('text',gA,{x:105,y:yA(v)+12,"text-anchor":'end',"font-size":34},barTickLabels[i]);
  
  
});

/* ---------- Panel B ---------- */
const yB=v=>426.7-33.7*v;
const xB=i=>891.5+332.9*i;
const gB=document.getElementById('panelB');
violinMinorTicks.forEach(v=>{
  const g=mk('line',gB,{x1:693.7,x2:1422.7,y1:yB(v),y2:yB(v),stroke:'#f1f1f1',"stroke-width":2});
  
  
});
violinMajorTicks.concat(violinExtraMajor).forEach(v=>{
  const g=mk('line',gB,{x1:693.7,x2:1422.7,y1:yB(v),y2:yB(v),stroke:'#ebebeb',"stroke-width":3});
  
  
});
violinMajorTicks.forEach(v=>{
  const t=mk('line',gB,{x1:683,x2:692,y1:yB(v),y2:yB(v),stroke:'#333',"stroke-width":2});
  
  
  const l=mk('text',gB,{x:678.5,y:yB(v)+11,"text-anchor":'end',"font-size":31},String(v));
  
  
});
function smooth(pts){
  let d='M'+pts[0][0]+' '+pts[0][1];
  for(let k=1;k<pts.length-1;k++){
    const mx=(pts[k][0]+pts[k+1][0])/2,my=(pts[k][1]+pts[k+1][1])/2;
    d+='Q'+pts[k][0]+' '+pts[k][1]+' '+mx+' '+my;
  }
  const e=pts[pts.length-1];
  return d+'L'+e[0]+' '+e[1];
}
function violin(i,vals,dens){
  const cx=xB(i),scale=83.5;
  const right=vals.map((v,k)=>[cx+dens[k]*scale,yB(v)]);
  const left=vals.map((v,k)=>[cx-dens[k]*scale,yB(v)]);
  const a=mk('path',gB,{d:smooth(right),fill:'none',stroke:'#3a3a3a',"stroke-width":3.2});
  
  
  const b=mk('path',gB,{d:smooth(left),fill:'none',stroke:'#3a3a3a',"stroke-width":3.2});
  
  
}
violin(0,earlyViolinValues,earlyViolinDensity);
violin(1,lateViolinValues,lateViolinDensity);
violinCategories.forEach((c,i)=>{
  const cx=xB(i);
  const wh=mk('path',gB,{d:'M'+cx+' '+yB(whiskerTop[i])+'V'+yB(boxQ3[i])+'M'+cx+' '+yB(boxQ1[i])+'V'+yB(whiskerBottom[i]),stroke:'#333',"stroke-width":3,fill:'none'});
  
  
  const bx=mk('rect',gB,{x:cx-50.2,y:yB(boxQ3[i]),width:100.4,height:yB(boxQ1[i])-yB(boxQ3[i]),fill:'none',stroke:'#333',"stroke-width":3.6});
  
  
  const med=mk('line',gB,{x1:cx-50.2,x2:cx+50.2,y1:yB(boxMedian[i]),y2:yB(boxMedian[i]),stroke:'#333',"stroke-width":8});
  
  
  const dot=mk('circle',gB,{cx:cx,cy:yB(meanValues[i]),r:18.3,fill:'#8b0000'});
  
  
  const conn=mk('line',gB,{x1:cx,y1:yB(meanValues[i]),x2:cx+25,y2:yB(meanValues[i])+50,stroke:'#000',"stroke-width":1.6,"stroke-dasharray":'5 4'});
  
  
  const by=yB(meanValues[i])+27.2;
  const lb=mk('rect',gB,{x:cx+27.3,y:by,width:180.6,height:42,rx:6,ry:6,fill:'#fff',stroke:'#000',"stroke-width":1.6});
  
  
  const lt=mk('text',gB,{x:cx+35,y:by+33,"font-size":31});
  
  
  mk('tspan',lt,{},'\u03BC');
  mk('tspan',lt,{"font-size":20,dx:-14.5,dy:-9},'^');
  mk('tspan',lt,{"font-size":21,dx:3.5,dy:16},'mean');
  mk('tspan',lt,{dy:-7},meanLabels[i]);
  const t=mk('line',gB,{x1:cx,x2:cx,y1:701.4,y2:707.6,stroke:'#333',"stroke-width":2.4});
  
  
  const l1=mk('text',gB,{x:cx-.5,y:750,"text-anchor":'middle',"font-size":34},c);
  
  
  const l2=mk('text',gB,{x:cx-.5,y:793,"text-anchor":'middle',"font-size":34},violinCounts[i]);
  
  
});

/* ---------- Panel C ---------- */
const gC=document.getElementById('panelC');
const yC=v=>1185.5-40.6*v;
const xEarly=v=>94.5+35.96*v;
const xLate=v=>790.3+35.9*v;
const STY={
  red:{fill:'rgba(205,45,60,.82)',stroke:'#2a0a0c'},
  redDense:{fill:'rgba(178,24,38,.92)',stroke:'#2a0a0c'},
  gray:{fill:'rgba(178,178,178,.9)',stroke:'#3a3a3a'},
  blue:{fill:'rgba(58,135,205,.88)',stroke:'#0c2d4c'},
  blueDense:{fill:'rgba(32,106,178,.92)',stroke:'#0c2d4c'}
};
function dot(parent,xf,x,y,s){
  const c=mk('circle',parent,{cx:xf(x),cy:yC(y),r:5.9,fill:s.fill,stroke:s.stroke,"stroke-width":1.5});
  
  
}
function halo(parent,xf,x,y){
  const c=mk('circle',parent,{cx:xf(x),cy:yC(y),r:9.6,fill:'#14528c'});
  
  
}
function tri(parent,xf,x,y,s){
  const px=xf(x),py=yC(y);
  const c=mk('path',parent,{d:'M'+px+' '+(py-6.5)+'L'+(px+6.3)+' '+(py+5)+'H'+(px-6.3)+'Z',fill:s.fill,stroke:s.stroke,"stroke-width":1.4});
  
  
}
function rows(parent,xf,r,s){r.forEach(row=>{row.slice(1).forEach(x=>dot(parent,xf,x,row[0],s));});}
function pairs(parent,xf,p,s){p.forEach(q=>dot(parent,xf,q[0],q[1],s));}
function tris(parent,xf,p,s){p.forEach(q=>tri(parent,xf,q[0],q[1],s));}

function maPanel(name,xf,left,right,cfg,labelled){
  const g=mk('g',gC,{});
  
  
  const z=mk('line',g,{x1:left,x2:right,y1:1186,y2:1186,stroke:'#111',"stroke-width":2.4});
  
  
  rows(g,xf,cfg.grayCore,STY.gray);
  pairs(g,xf,cfg.graySparse,STY.gray);
  tris(g,xf,cfg.grayClip,STY.gray);
  cfg.blueCore.forEach(row=>{row.slice(1).forEach(x=>halo(g,xf,x,row[0]));});
  rows(g,xf,cfg.blueCore,STY.blueDense);
  pairs(g,xf,cfg.blueSparse,STY.blue);
  tris(g,xf,cfg.blueClip,STY.blue);
  rows(g,xf,cfg.redCore,STY.redDense);
  pairs(g,xf,cfg.redSparse,STY.red);
  tris(g,xf,cfg.redClip,STY.red);
  const fr=mk('rect',g,{x:left,y:852.7,width:right-left,height:663.3,fill:'none',stroke:'#111',"stroke-width":2.4});
  
  
  maYTicks.forEach(v=>{
    const t=mk('line',g,{x1:left-5.5,x2:left,y1:yC(v),y2:yC(v),stroke:'#222',"stroke-width":1.8});
    
    
    if(labelled){
      const l=mk('text',g,{x:76.6,y:yC(v)+12,"text-anchor":'end',"font-size":33},String(v));
      
      
    }
  });
  maXTicks.forEach(v=>{
    const t=mk('line',g,{x1:xf(v),x2:xf(v),y1:1516,y2:1521.5,stroke:'#222',"stroke-width":1.8});
    
    
    const l=mk('text',g,{x:xf(v),y:1554,"text-anchor":'middle',"font-size":32},String(v));
    
    
  });
}
maPanel('ma-plot-early',xEarly,90.6,745.5,{grayCore:earlyGrayCore,graySparse:earlyGraySparse,grayClip:earlyGrayClipped,blueCore:earlyBlueCore,blueSparse:earlyBlueSparse,blueClip:earlyBlueClipped,redCore:earlyRedCore,redSparse:earlyRedSparse,redClip:earlyRedClipped},true);
maPanel('ma-plot-late',xLate,785.6,1442,{grayCore:lateGrayCore,graySparse:lateGraySparse,grayClip:[],blueCore:lateBlueCore,blueSparse:lateBlueSparse,blueClip:lateBlueClipped,redCore:[],redSparse:lateRedSparse,redClip:lateRedClipped},false);

/* ---------- Panel D ---------- */
const gD=document.getElementById('panelD');
const xD=v=>820+v*3537;
const cbX=v=>481.6+(30-v)*42.4;
const termY=i=>1806.3+72.5*i;
termLabels.forEach((t,i)=>{
  const b=mk('rect',gD,{x:xD(0),y:termY(i)-32.6,width:xD(geneRatios[i])-xD(0),height:65.2,fill:termColors[i]});
  
  
  const tick=mk('line',gD,{x1:786,x2:794,y1:termY(i),y2:termY(i),stroke:'#222',"stroke-width":2.4});
  
  
  const l=mk('text',gD,{x:775,y:termY(i)+12,"text-anchor":'end',"font-size":35},t);
  
  
});
ratioTicks.forEach((v,i)=>{
  const t=mk('line',gD,{x1:xD(v),x2:xD(v),y1:1994,y2:2002,stroke:'#222',"stroke-width":2.4});
  
  
  const l=mk('text',gD,{x:xD(v),y:2043,"text-anchor":'middle',"font-size":34},ratioTickLabels[i]);
  
  
});
colorbarTicks.forEach(v=>{
  const a=mk('path',gD,{d:'M'+cbX(v)+' 1721v8.6M'+cbX(v)+' 1756v8.6',stroke:'rgba(255,255,255,.65)',"stroke-width":1.6,fill:'none'});
  
  
  const l=mk('text',gD,{x:cbX(v),y:1716.7,"text-anchor":'middle',"font-size":32},String(v));
  
  
});
</script>
</body>
</html>
